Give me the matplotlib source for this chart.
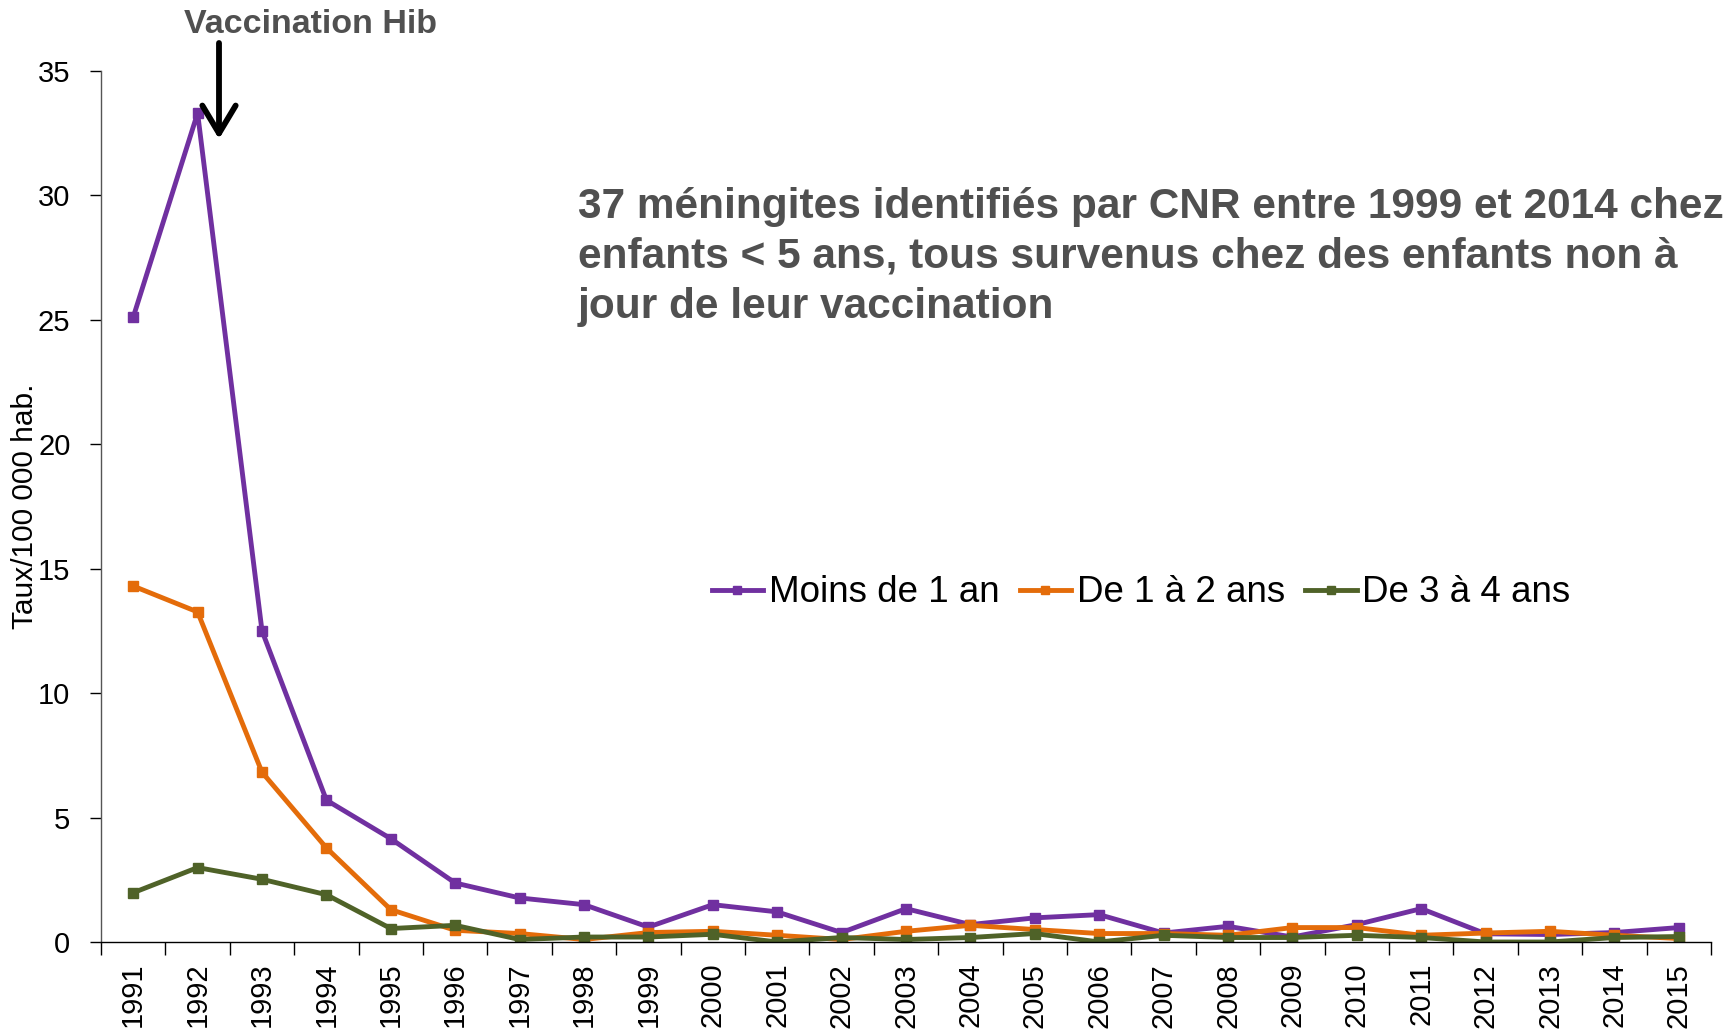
import numpy as np
import matplotlib
matplotlib.use("Agg")
import matplotlib.pyplot as plt

plt.rcParams['font.family'] = ['Liberation Sans', 'DejaVu Sans']

# Data (taux pour 100 000 habitants)
years = list(range(1991, 2016))
moins_1_an = [25.1, 33.3, 12.5, 5.7, 4.15, 2.37, 1.77, 1.5, 0.6, 1.5, 1.21, 0.38, 1.34,
              0.7, 0.97, 1.1, 0.36, 0.63, 0.2, 0.7, 1.34, 0.33, 0.3, 0.38, 0.58]
de_1_a_2 = [14.3, 13.26, 6.82, 3.78, 1.3, 0.47, 0.34, 0.1, 0.38, 0.43, 0.27, 0.1, 0.43,
            0.67, 0.5, 0.34, 0.34, 0.27, 0.58, 0.58, 0.27, 0.36, 0.43, 0.27, 0.14]
de_3_a_4 = [1.98, 2.99, 2.52, 1.9, 0.54, 0.67, 0.1, 0.2, 0.2, 0.31, 0.0, 0.18, 0.1,
            0.18, 0.34, 0.0, 0.27, 0.18, 0.18, 0.27, 0.18, 0.0, 0.0, 0.18, 0.22]

series = [("Moins de 1 an", moins_1_an, "#7030A0"),
          ("De 1 à 2 ans", de_1_a_2, "#E46C0A"),
          ("De 3 à 4 ans", de_3_a_4, "#4F6228")]

note_lines = ["37 méningites identifiés par CNR entre 1999 et 2014 chez",
              "enfants < 5 ans, tous survenus chez des enfants non à",
              "jour de leur vaccination"]

W, H = 1736, 1029
fig = plt.figure(figsize=(W / 100, H / 100), dpi=100)
ax = fig.add_axes([101 / W, 87 / H, 1610 / W, (942 - 70.8) / H])

for name, vals, col in series:
    ax.plot(years, vals, color=col, lw=3.5, marker='s', markersize=7.5, label=name)

ax.set_xlim(years[0] - 0.5, years[-1] + 0.5)
ax.set_ylim(0, 35)
ax.set_yticks(np.arange(0, 36, 5))

# category boundaries as ticks, labels centred
ax.set_xticks(np.arange(years[0] - 0.5, years[-1] + 1, 1))
ax.set_xticklabels([])
ax.set_xticks(years, minor=True)
ax.set_xticklabels([str(y) for y in years], minor=True, rotation=90, fontsize=21)
ax.tick_params(axis='x', which='major', length=9, width=1, color='black')
ax.tick_params(axis='x', which='minor', length=0, pad=15)
ax.tick_params(axis='y', length=8, width=1, color='black', labelsize=21, pad=14)

for s in ['top', 'right']:
    ax.spines[s].set_visible(False)
for s in ['left', 'bottom']:
    ax.spines[s].set_linewidth(1)
ax.spines['left'].set_color('#555555')

ax.set_ylabel("Taux/100 000 hab.", fontsize=21.5)
ax.yaxis.set_label_coords(-0.0385, 0.5)

leg = fig.legend(loc='center', bbox_to_anchor=(1141 / W, 1 - 593 / H), ncol=3,
                 frameon=False, fontsize=26.5, handlelength=1.4, handletextpad=0.15,
                 columnspacing=0.55, borderpad=0, markerscale=0.8)

# annotations
for i, line in enumerate(note_lines):
    fig.text(578 / W, 1 - (218 + 50 * i) / H, line, fontsize=30.5, fontweight='bold',
             color='#505050', ha='left', va='baseline')

fig.text(310.5 / W, 1 - 33 / H, "Vaccination Hib", fontsize=24.5, fontweight='bold',
         color='#505050', ha='center', va='baseline')
ax.annotate('', xy=(219, H - 139), xytext=(219, H - 43), xycoords='figure pixels',
            textcoords='figure pixels',
            arrowprops=dict(arrowstyle='->,head_length=1.0,head_width=0.6',
                            mutation_scale=20, lw=4.2, color='black',
                            shrinkA=0, shrinkB=0))

fig.savefig("out.png", dpi=100)
